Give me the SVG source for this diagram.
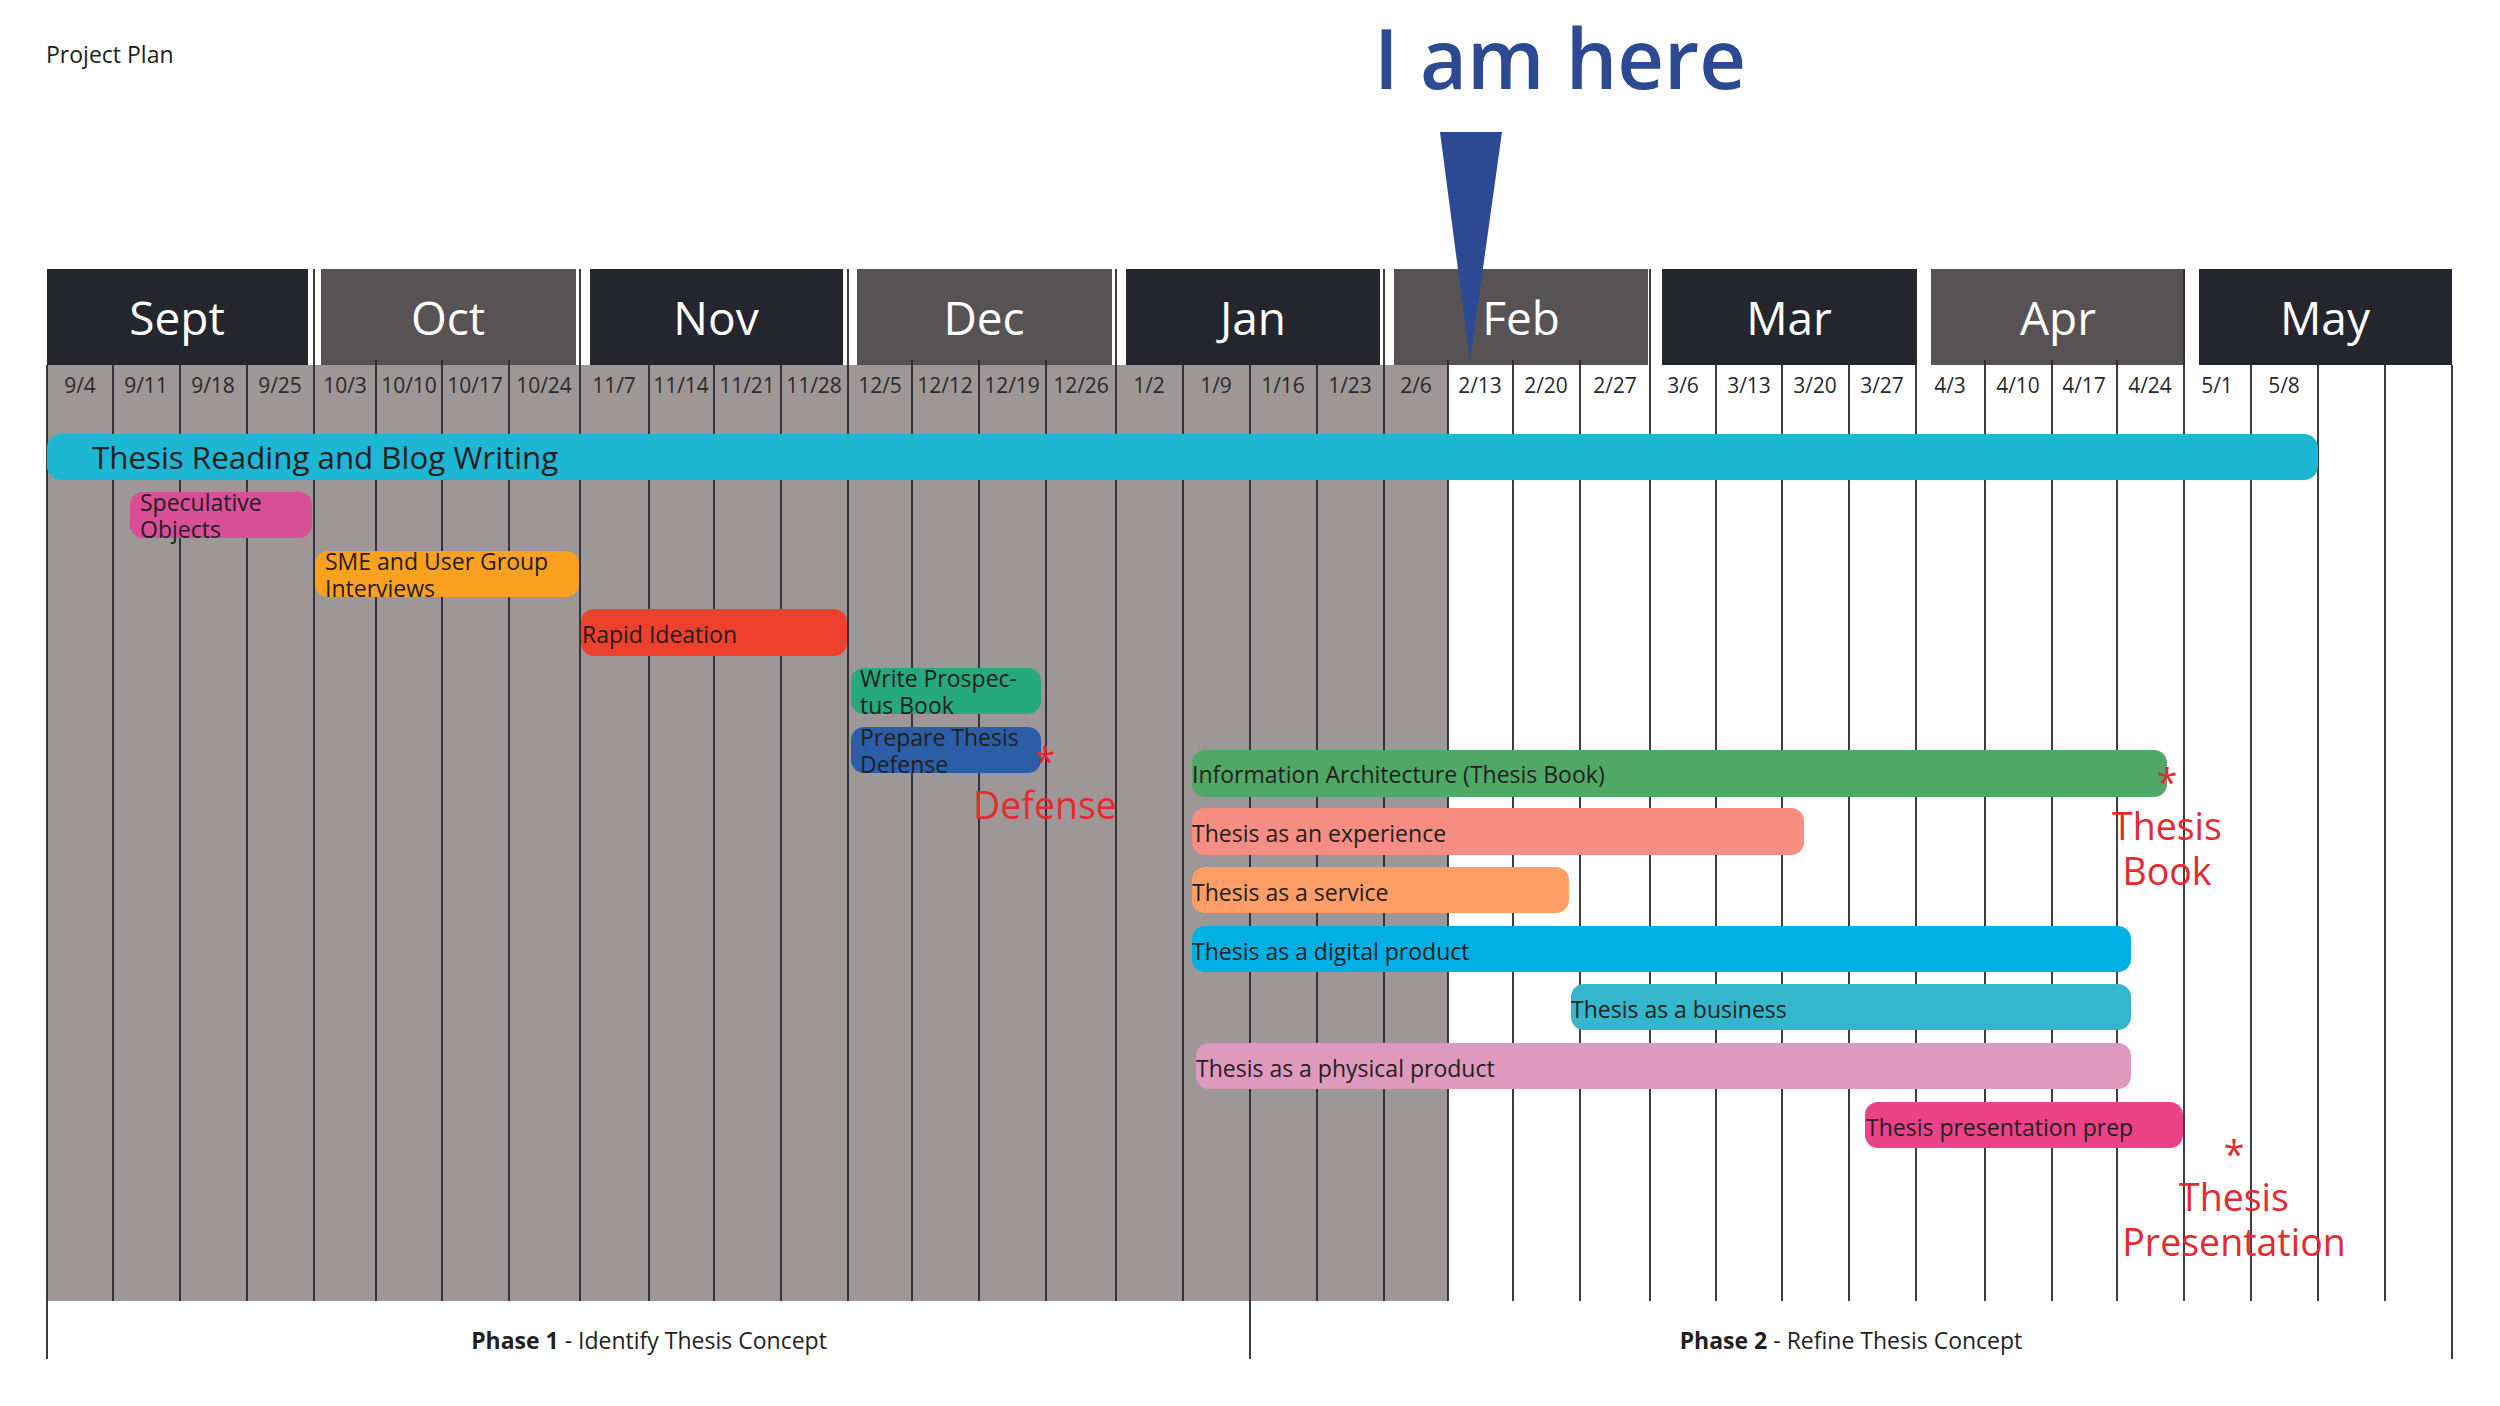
<svg xmlns="http://www.w3.org/2000/svg" width="2500" height="1406" viewBox="0 0 2500 1406">
<style>
text{font-family:"Open Sans","Noto Sans","Liberation Sans",sans-serif}
.mdark{fill:#25252D}
.mgray{fill:#575354}
.mlbl{fill:#FFFFFF;font-size:46px;text-anchor:middle}
.date{fill:#2A2A2A;font-size:21px;text-anchor:middle}
.grid{stroke:#2A2A2E;stroke-width:1.8;fill:none}
.bar{stroke:none}
.btxt{fill:#231F20;font-size:23px}
.red{fill:#E52A2F;font-size:37.5px;text-anchor:middle}
.phase{fill:#231F20;font-size:23px;text-anchor:middle}
</style>
<rect x="0" y="0" width="2500" height="1406" fill="#FFFFFF"/>
<text x="46" y="63" style="font-size:23px;fill:#231F20">Project Plan</text>
<g id="body-shade"><rect x="47" y="365" width="1401" height="936" fill="#9D9897"/></g>
<g id="months">
<rect class="mdark" x="47" y="269" width="261" height="96"/>
<rect class="mgray" x="321" y="269" width="255" height="96"/>
<rect class="mdark" x="590" y="269" width="253" height="96"/>
<rect class="mgray" x="857" y="269" width="255" height="96"/>
<rect class="mdark" x="1126" y="269" width="254" height="96"/>
<rect class="mgray" x="1394" y="269" width="254" height="96"/>
<rect class="mdark" x="1662" y="269" width="255" height="96"/>
<rect class="mgray" x="1931" y="269" width="254" height="96"/>
<rect class="mdark" x="2199" y="269" width="253" height="96"/>
<text class="mlbl" x="177" y="335">Sept</text>
<text class="mlbl" x="448" y="335">Oct</text>
<text class="mlbl" x="716" y="335">Nov</text>
<text class="mlbl" x="984" y="335">Dec</text>
<text class="mlbl" x="1253" y="335">Jan</text>
<text class="mlbl" x="1521" y="335">Feb</text>
<text class="mlbl" x="1789" y="335">Mar</text>
<text class="mlbl" x="2058" y="335">Apr</text>
<text class="mlbl" x="2325" y="335">May</text>
</g>
<g id="grid">
<path class="grid" d="M47 365V1359M2452 365V1359M1250 360V1359
M314 269V1301M580 269V1301M848 269V1301M1116 269V1301M1384 269V1301M1650 269V1301M1916 269V1301M2184 269V1301
M113 360V1301M180 360V1301M247 360V1301M376 360V1301M442 360V1301M509 360V1301M649 360V1301M714 360V1301M781 360V1301
M912 360V1301M979 360V1301M1046 360V1301M1183 360V1301M1317 360V1301M1448 360V1301M1513 360V1301M1580 360V1301
M1716 360V1301M1782 360V1301M1849 360V1301M1985 360V1301M2052 360V1301M2117 360V1301M2251 360V1301M2318 360V1301M2385 360V1301"/>
</g>
<g id="dates">
<text class="date" x="80" y="393">9/4</text>
<text class="date" x="146" y="393">9/11</text>
<text class="date" x="213" y="393">9/18</text>
<text class="date" x="280" y="393">9/25</text>
<text class="date" x="345" y="393">10/3</text>
<text class="date" x="409" y="393">10/10</text>
<text class="date" x="475" y="393">10/17</text>
<text class="date" x="544" y="393">10/24</text>
<text class="date" x="614" y="393">11/7</text>
<text class="date" x="681" y="393">11/14</text>
<text class="date" x="747" y="393">11/21</text>
<text class="date" x="814" y="393">11/28</text>
<text class="date" x="880" y="393">12/5</text>
<text class="date" x="945" y="393">12/12</text>
<text class="date" x="1012" y="393">12/19</text>
<text class="date" x="1081" y="393">12/26</text>
<text class="date" x="1149" y="393">1/2</text>
<text class="date" x="1216" y="393">1/9</text>
<text class="date" x="1283" y="393">1/16</text>
<text class="date" x="1350" y="393">1/23</text>
<text class="date" x="1416" y="393">2/6</text>
<text class="date" x="1480" y="393">2/13</text>
<text class="date" x="1546" y="393">2/20</text>
<text class="date" x="1615" y="393">2/27</text>
<text class="date" x="1683" y="393">3/6</text>
<text class="date" x="1749" y="393">3/13</text>
<text class="date" x="1815" y="393">3/20</text>
<text class="date" x="1882" y="393">3/27</text>
<text class="date" x="1950" y="393">4/3</text>
<text class="date" x="2018" y="393">4/10</text>
<text class="date" x="2084" y="393">4/17</text>
<text class="date" x="2150" y="393">4/24</text>
<text class="date" x="2217" y="393">5/1</text>
<text class="date" x="2284" y="393">5/8</text>
</g>
<g id="task-reading">
<rect class="bar" x="47" y="434" width="2271" height="46" rx="14" fill="#1DB6D3"/>
<text x="92" y="469" style="font-size:31.3px;fill:#231F20">Thesis Reading and Blog Writing</text>
</g>
<g id="task-speculative">
<rect class="bar" x="130" y="492" width="182" height="46" rx="13" fill="#D84F97"/>
<text class="btxt" x="140" y="511">Speculative</text>
<text class="btxt" x="140" y="538">Objects</text>
</g>
<g id="task-sme">
<rect class="bar" x="315" y="551" width="264" height="46" rx="13" fill="#FCA11F"/>
<text class="btxt" x="325" y="570">SME and User Group</text>
<text class="btxt" x="325" y="597">Interviews</text>
</g>
<g id="task-rapid">
<rect class="bar" x="581" y="609" width="266" height="47" rx="13" fill="#EE402C"/>
<text class="btxt" x="582" y="643">Rapid Ideation</text>
</g>
<g id="task-prospectus">
<rect class="bar" x="851" y="668" width="190" height="46" rx="13" fill="#26A97C"/>
<text class="btxt" x="860" y="687">Write Prospec-</text>
<text class="btxt" x="860" y="714">tus Book</text>
</g>
<g id="task-defense">
<rect class="bar" x="851" y="727" width="190" height="46" rx="13" fill="#2B5EA7"/>
<text class="btxt" x="860" y="746">Prepare Thesis</text>
<text class="btxt" x="860" y="773">Defense</text>
</g>
<g id="task-ia">
<rect class="bar" x="1192" y="750" width="975" height="47" rx="13" fill="#4FA866"/>
<text class="btxt" x="1192" y="783">Information Architecture (Thesis Book)</text>
</g>
<g id="task-experience">
<rect class="bar" x="1192" y="808" width="612" height="47" rx="13" fill="#F78D83"/>
<text class="btxt" x="1192" y="842">Thesis as an experience</text>
</g>
<g id="task-service">
<rect class="bar" x="1192" y="867" width="377" height="46" rx="13" fill="#FE9E66"/>
<text class="btxt" x="1192" y="901">Thesis as a service</text>
</g>
<g id="task-digital">
<rect class="bar" x="1192" y="926" width="939" height="46" rx="13" fill="#00AFE4"/>
<text class="btxt" x="1192" y="960">Thesis as a digital product</text>
</g>
<g id="task-business">
<rect class="bar" x="1571" y="984" width="560" height="46" rx="13" fill="#34B6CD"/>
<text class="btxt" x="1571" y="1018">Thesis as a business</text>
</g>
<g id="task-physical">
<rect class="bar" x="1196" y="1043" width="935" height="46" rx="13" fill="#DF99BF"/>
<text class="btxt" x="1196" y="1077">Thesis as a physical product</text>
</g>
<g id="task-presentation">
<rect class="bar" x="1865" y="1102" width="318" height="46" rx="13" fill="#EB4288"/>
<text class="btxt" x="1866" y="1136">Thesis presentation prep</text>
</g>
<g id="milestone-defense">
<text class="red"><tspan x="1045" y="775">*</tspan><tspan x="1045" y="819">Defense</tspan></text>
</g>
<g id="milestone-book">
<text class="red"><tspan x="2167" y="796">*</tspan><tspan x="2167" y="840">Thesis</tspan><tspan x="2167" y="885">Book</tspan></text>
</g>
<g id="milestone-presentation">
<text class="red"><tspan x="2234" y="1168">*</tspan><tspan x="2234" y="1211">Thesis</tspan><tspan x="2234" y="1256">Presentation</tspan></text>
</g>
<g id="phases">
<text class="phase" x="649" y="1349"><tspan font-weight="700">Phase 1</tspan> - Identify Thesis Concept</text>
<text class="phase" x="1851" y="1349"><tspan font-weight="700">Phase 2</tspan> - Refine Thesis Concept</text>
</g>
<g id="marker-here">
<text x="1374" y="89" textLength="372" lengthAdjust="spacingAndGlyphs" style="font-size:83px;font-weight:600;fill:#2B4A93">I am here</text>
<polygon points="1440,132 1502,132 1470,361" fill="#2B4A93"/>
</g>
</svg>
